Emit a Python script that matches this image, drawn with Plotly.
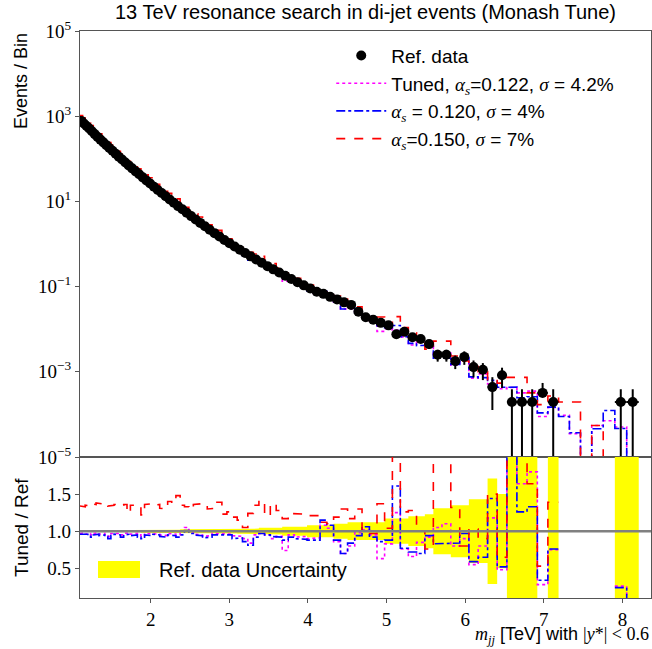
import numpy as np
import plotly.graph_objects as go

# ---------------- data ----------------
edges = [1.100, 1.133, 1.166, 1.200, 1.234, 1.269, 1.305, 1.341, 1.378, 1.416,
         1.454, 1.493, 1.533, 1.573, 1.614, 1.656, 1.698, 1.741, 1.785, 1.830,
         1.875, 1.921, 1.968, 2.016, 2.065, 2.114, 2.164, 2.215, 2.267, 2.320,
         2.374, 2.429, 2.485, 2.542, 2.600, 2.659, 2.719, 2.780, 2.842, 2.905,
         2.969, 3.034, 3.100, 3.167, 3.235, 3.305, 3.376, 3.448, 3.521, 3.596,
         3.672, 3.749, 3.827, 3.907, 3.988, 4.070, 4.154, 4.239, 4.326, 4.414,
         4.504, 4.595, 4.688, 4.782, 4.878, 4.975, 5.074, 5.175, 5.277, 5.381,
         5.487, 5.595, 5.705, 5.817, 5.931, 6.047, 6.165, 6.285, 6.407, 6.531,
         6.658, 6.787, 6.918, 7.052, 7.188, 7.326, 7.467, 7.610, 7.756, 7.904,
         8.055, 8.208, 8.364]

data = [776, 676, 589, 513, 442, 380, 327, 282, 243, 209,
        180, 155, 132, 112, 96.6, 82.2, 70.0, 59.6, 50.7, 43.2,
        36.7, 30.9, 26.3, 22.1, 18.6, 15.7, 13.2, 11.1, 9.33, 7.76,
        6.53, 5.43, 4.52, 3.76, 3.13, 2.60, 2.16, 1.80, 1.50, 1.245,
        1.047, 0.871, 0.733, 0.617, 0.513, 0.432, 0.363, 0.302, 0.254, 0.214,
        0.180, 0.151, 0.127, 0.107, 0.0902, 0.0759, 0.0676, 0.0575, 0.0501, 0.0427,
        0.0372, 0.0257, 0.0191, 0.0166, 0.0141, 0.0123, 0.00759, 0.00871, 0.00646, 0.00589,
        0.00447, 0.00251, 0.00251, 0.00178, 0.00224, 0.00129, 0.00112, 0.000437, 0.000832, 0.000195,
        0.000195, 0.000195, 0.00032, 0.000195, 0, 0, 0, 0, 0, 0.000195,
        0.000195, 0]

# relative uncertainty of the data, upward and downward
rel_unc_up = ([0.012] * 10 + [0.015] * 10 + [0.02] * 10 + [0.025] * 6 + [0.03] * 6 +
              [0.035] * 4 + [0.045] * 4 + [0.06] * 4 + [0.08] * 4 + [0.10] * 2 +
              [0.12] * 5 + [0.17] * 3 + [0.20] * 2 + [0.23] + [0.31] * 2 + [0.35] * 2 +
              [0.43] * 2 + [0.71] + [0.5] + [1.0] * 3 + [0.71] + [1.0] + [0] * 5 +
              [1.0] * 2 + [0])
rel_unc_down = ([0.012] * 10 + [0.015] * 10 + [0.02] * 10 + [0.025] * 6 + [0.03] * 6 +
                [0.035] * 4 + [0.045] * 4 + [0.06] * 4 + [0.08] * 4 + [0.10] * 2 +
                [0.12] * 5 + [0.17] * 3 + [0.20] * 2 + [0.23] + [0.31] * 2 + [0.35] * 2 +
                [0.43] * 2 + [0.71] + [0.5] + [1.0] * 3 + [0.0] + [1.0] + [0] * 5 +
                [1.0] * 2 + [0])

N = None
ratio_a150 = [1.34, 1.33, 1.35, 1.34, 1.37, 1.36, 1.38, 1.37, 1.35, 1.36,
              1.34, 1.35, 1.36, 1.34, 1.35, 1.36, 1.25, 1.35, 1.36, 1.35,
              1.22, 1.36, 1.37, 1.35, 1.36, 1.31, 1.30, 1.40, 1.38, 1.48,
              1.35, 1.33, 1.30, 1.36, 1.37, 1.35, 1.30, 1.31, 1.39, 1.23,
              1.26, 1.19, 1.15, 1.05, 1.24, 1.35, 1.41, 1.21, 1.37, 1.28,
              1.17, 1.24, 1.23, 1.23, 1.21, 1.21, 1.12, 1.10, 1.19, 1.30,
              1.17, 1.30, 0.97, 0.97, 1.37, 1.04, 2.6, 1.26, 1.28, 1.00,
              0.76, 2.09, 2.09, 1.32, 0.80, 1.03, 0.90, 1.50, 0.65, 3.8,
              3.8, 1.64, 0.53, 1.39, N, N, N, N, N, 0,
              0, N]
ratio_a120 = [0.96, 0.95, 0.96, 0.94, 0.92, 0.95, 0.96, 0.94, 0.95, 0.93,
              0.90, 0.94, 0.96, 0.95, 0.92, 0.95, 0.96, 0.94, 0.95, 0.92,
              0.90, 0.95, 0.94, 0.96, 0.95, 0.93, 0.92, 0.95, 0.94, 0.92,
              0.95, 1.01, 0.97, 0.95, 0.94, 0.91, 0.92, 0.95, 0.96, 0.95,
              0.95, 0.90, 0.91, 0.86, 0.81, 0.92, 0.97, 0.95, 0.93, 0.92,
              0.88, 0.92, 0.90, 0.89, 0.88, 0.88, 1.15, 1.08, 0.88, 0.70,
              0.84, 0.94, 1.06, 0.92, 0.86, 0.88, 1.61, 0.77, 0.72, 0.70,
              0.94, 0.83, 0.83, 0.84, 0.97, 0.59, 0.65, 1.44, 0.52, 2.24,
              1.26, 1.33, 0.34, 0.76, N, N, N, N, N, 0.24,
              0, N]
ratio_tuned = [0.97, 0.98, 0.96, 0.97, 0.95, 0.97, 0.98, 0.96, 0.97, 0.95,
               0.93, 0.97, 0.98, 0.97, 0.95, 0.97, 0.98, 0.96, 0.97, 0.95,
               0.93, 0.97, 0.96, 0.97, 0.96, 0.95, 0.94, 0.97, 0.96, 0.95,
               1.00, 1.05, 0.99, 0.96, 0.95, 0.93, 0.94, 0.97, 0.96, 0.97,
               0.96, 0.94, 0.93, 0.90, 0.84, 0.95, 0.97, 0.95, 0.90, 0.93,
               0.74, 0.95, 0.92, 0.93, 0.90, 0.91, 1.08, 1.04, 0.86, 0.70,
               0.80, 0.98, 1.02, 0.95, 0.63, 0.83, 1.25, 0.76, 0.66, 0.85,
               0.92, 1.05, 1.10, 0.80, 0.90, 0.55, 0.80, 1.18, 0.48, 2.2,
               1.64, 1.8, 0.28, 0.75, N, N, N, N, N, 0.26,
               0, N]

# MC yields in the bins where the reference data are empty (in bin order)
nodata_a150 = [1.95e-4, 1.95e-4, 0, 5.5e-5, 0, 0]
nodata_a120 = [8.9e-5, 3.7e-5, 0, 4.6e-5, 1.23e-4, 0]
nodata_tuned = [9.5e-5, 3.5e-5, 0, 5.5e-5, 7.1e-5, 0]

# ---------------- derived arrays ----------------
E = np.array(edges)
lo, hi = E[:-1], E[1:]
cen = 0.5 * (lo + hi)
hw = 0.5 * (hi - lo)
D = np.array(data, float)
RU = np.array(rel_unc_up, float)
RD = np.array(rel_unc_down, float)
has = D > 0


def mc_from(ratio, nodata):
    r = np.array(ratio, dtype=float)
    mc = np.zeros_like(D)
    mc[has] = D[has] * r[has]
    mc[~has] = nodata
    ratio_plot = np.where(has, mc / np.where(has, D, 1), np.nan)
    return mc, ratio_plot


def steps(vals):
    xs, ys = [], []
    for l, h, v in zip(lo, hi, vals):
        if v is None or not np.isfinite(v):
            if xs and xs[-1] is not None:
                xs.append(None); ys.append(None)
            continue
        xs += [l, h]; ys += [v, v]
    return xs, ys


SERIF = "Liberation Serif"
SANS = "Liberation Sans"


def m(s):
    return f'<span style="font-family:{SERIF}"><i>{s}</i></span>'


alpha_s = m("α") + f'<sub>{m("s")}</sub>'
sigma = m("σ")

series = [
    ("tuned", ratio_tuned, nodata_tuned, "#ff00ff", "dot",
     f"Tuned, {alpha_s}=0.122, {sigma} = 4.2%", 2),
    ("a120", ratio_a120, nodata_a120, "#0000ff", "dashdot",
     f"{alpha_s} = 0.120, {sigma} = 4%", 3),
    ("a150", ratio_a150, nodata_a150, "#ff0000", "dash",
     f"{alpha_s}=0.150, {sigma} = 7%", 4),
]

fig = go.Figure()

# ---- ratio panel: data uncertainty band ----
bx, by = [], []
run = []
for i in range(len(D) + 1):
    if i < len(D) and has[i] and RD[i] > 0:
        run.append(i)
        continue
    if run:
        up_x, up_y, dn_x, dn_y = [], [], [], []
        for j in run:
            up_x += [lo[j], hi[j]]; up_y += [1 + RD[j], 1 + RD[j]]
            dn_x += [lo[j], hi[j]]; dn_y += [1 - RD[j], 1 - RD[j]]
        bx += up_x + dn_x[::-1] + [up_x[0], None]
        by += up_y + dn_y[::-1] + [up_y[0], None]
        run = []
fig.add_trace(go.Scatter(x=bx, y=by, mode="lines", fill="toself",
                         fillcolor="#ffff00", line=dict(width=0),
                         hoverinfo="skip", showlegend=False,
                         xaxis="x2", yaxis="y2"))

# ---- MC curves ----
for name, ratio, nodata, col, dash, label, rank in series:
    mc, rp = mc_from(ratio, nodata)
    tx, ty = steps(np.where(mc > 0, mc, 1e-12))
    fig.add_trace(go.Scatter(x=tx, y=ty, mode="lines",
                             line=dict(color=col, dash=dash, width=1.6),
                             name=label, legendrank=rank,
                             xaxis="x", yaxis="y"))
    rx, ry = steps(rp)
    fig.add_trace(go.Scatter(x=rx, y=ry, mode="lines",
                             line=dict(color=col, dash=dash, width=1.6),
                             showlegend=False, xaxis="x2", yaxis="y2"))

# ---- data ----
fig.add_trace(go.Scatter(
    x=cen[has], y=D[has], mode="markers", name="Ref. data", legendrank=1,
    marker=dict(color="black", size=10, symbol="circle"),
    error_y=dict(type="data", array=RU[has] * D[has], arrayminus=RD[has] * D[has],
                 color="black", thickness=2, width=0),
    error_x=dict(type="data", array=hw[has], color="black", thickness=2, width=0),
    xaxis="x", yaxis="y"))

# ---------------- layout ----------------
L, Rm, T, B = 80, 1, 31, 51
H, W = 649, 652
ph = H - T - B
pw = W - L - Rm
split = (598 - 457) / ph
AX = "#555555"

tickv = [1e5, 1e3, 1e1, 1e-1, 1e-3, 1e-5]
tickt = ["10<sup>5</sup>", "10<sup>3</sup>", "10<sup>1</sup>",
         "10<sup>−1</sup>", "10<sup>−3</sup>", "10<sup>−5</sup>"]

fig.update_layout(
    width=W, height=H, autosize=False,
    margin=dict(l=L, r=Rm, t=T, b=B),
    paper_bgcolor="white", plot_bgcolor="white",
    font=dict(family=SANS, size=17, color="black"),
    title=dict(text="13 TeV resonance search in di-jet events (Monash Tune)",
               x=0.5, xref="paper", xanchor="center",
               y=1 - 12 / H, yanchor="middle",
               font=dict(family=SANS, size=20, color="black")),
    showlegend=True,
    legend=dict(x=0.44, y=0.99, xanchor="left", yanchor="top",
                bgcolor="rgba(0,0,0,0)", borderwidth=0,
                font=dict(family=SANS, size=19), itemwidth=50,
                tracegroupgap=0),
    xaxis=dict(domain=[0, 1], range=[edges[0], edges[-1]], anchor="y",
               showticklabels=False, ticks="", showgrid=False, zeroline=False,
               showline=True, mirror=True, linecolor=AX, linewidth=1.3,
               matches="x2"),
    yaxis=dict(domain=[split, 1], type="log", range=[-5, 5], anchor="x",
               tickvals=tickv, ticktext=tickt, ticks="outside", ticklen=4,
               tickcolor=AX, showgrid=False, zeroline=False, showline=True,
               mirror=True, linecolor=AX, linewidth=1.3,
               tickfont=dict(family=SERIF, size=19)),
    xaxis2=dict(domain=[0, 1], range=[edges[0], edges[-1]], anchor="y2",
                tickvals=[2, 3, 4, 5, 6, 7, 8], ticks="outside", ticklen=4,
                tickcolor=AX, showgrid=False, zeroline=False, showline=True,
                mirror=True, linecolor=AX, linewidth=1.3,
                tickfont=dict(family=SERIF, size=19)),
    yaxis2=dict(domain=[0, split], range=[0.1, 2.0], anchor="x2",
                tickvals=[0.5, 1.0, 1.5], ticktext=["0.5", "1.0", "1.5"],
                ticks="outside", ticklen=4, tickcolor=AX, showgrid=False,
                zeroline=False, showline=True, mirror=True, linecolor=AX,
                linewidth=1.3, tickfont=dict(family=SERIF, size=19)),
)

# reference line at ratio 1
fig.add_shape(type="line", xref="x2 domain", yref="y2", x0=0, x1=1, y0=1, y1=1,
              line=dict(color="#808080", width=2.5), layer="above")

# uncertainty legend in ratio panel
fig.add_shape(type="rect", xref="paper", yref="paper",
              x0=(98 - L) / pw, x1=(140 - L) / pw,
              y0=(598 - 578) / ph, y1=(598 - 561) / ph,
              fillcolor="#ffff00", line=dict(width=0), layer="above")
fig.add_annotation(text="Ref. data Uncertainty", xref="paper", yref="paper",
                   x=(157 - L) / pw, y=(598 - 569.5) / ph,
                   xanchor="left", yanchor="middle", showarrow=False,
                   font=dict(family=SANS, size=20))

# axis titles
fig.add_annotation(text="Events / Bin", xref="paper", yref="paper",
                   x=-(L - 9) / pw, y=1.0, xanchor="left",
                   yanchor="top", textangle=-90, showarrow=False,
                   font=dict(family=SANS, size=18))
fig.add_annotation(text="Tuned / Ref", xref="paper", yref="paper",
                   x=-(L - 9) / pw, y=split / 2, xanchor="left",
                   yanchor="middle", textangle=-90, showarrow=False,
                   font=dict(family=SANS, size=19))
xlab = (m("m") + f'<sub>{m("jj")}</sub>' + " [TeV] with " +
        f'<span style="font-family:{SERIF}">|<i>y</i>*| &lt; 0.6</span>')
fig.add_annotation(text=xlab, xref="paper", yref="paper",
                   x=1.0, y=(598 - 649) / ph, xanchor="right",
                   yanchor="bottom", showarrow=False,
                   font=dict(family=SANS, size=18))

fig.write_html("out.html")
